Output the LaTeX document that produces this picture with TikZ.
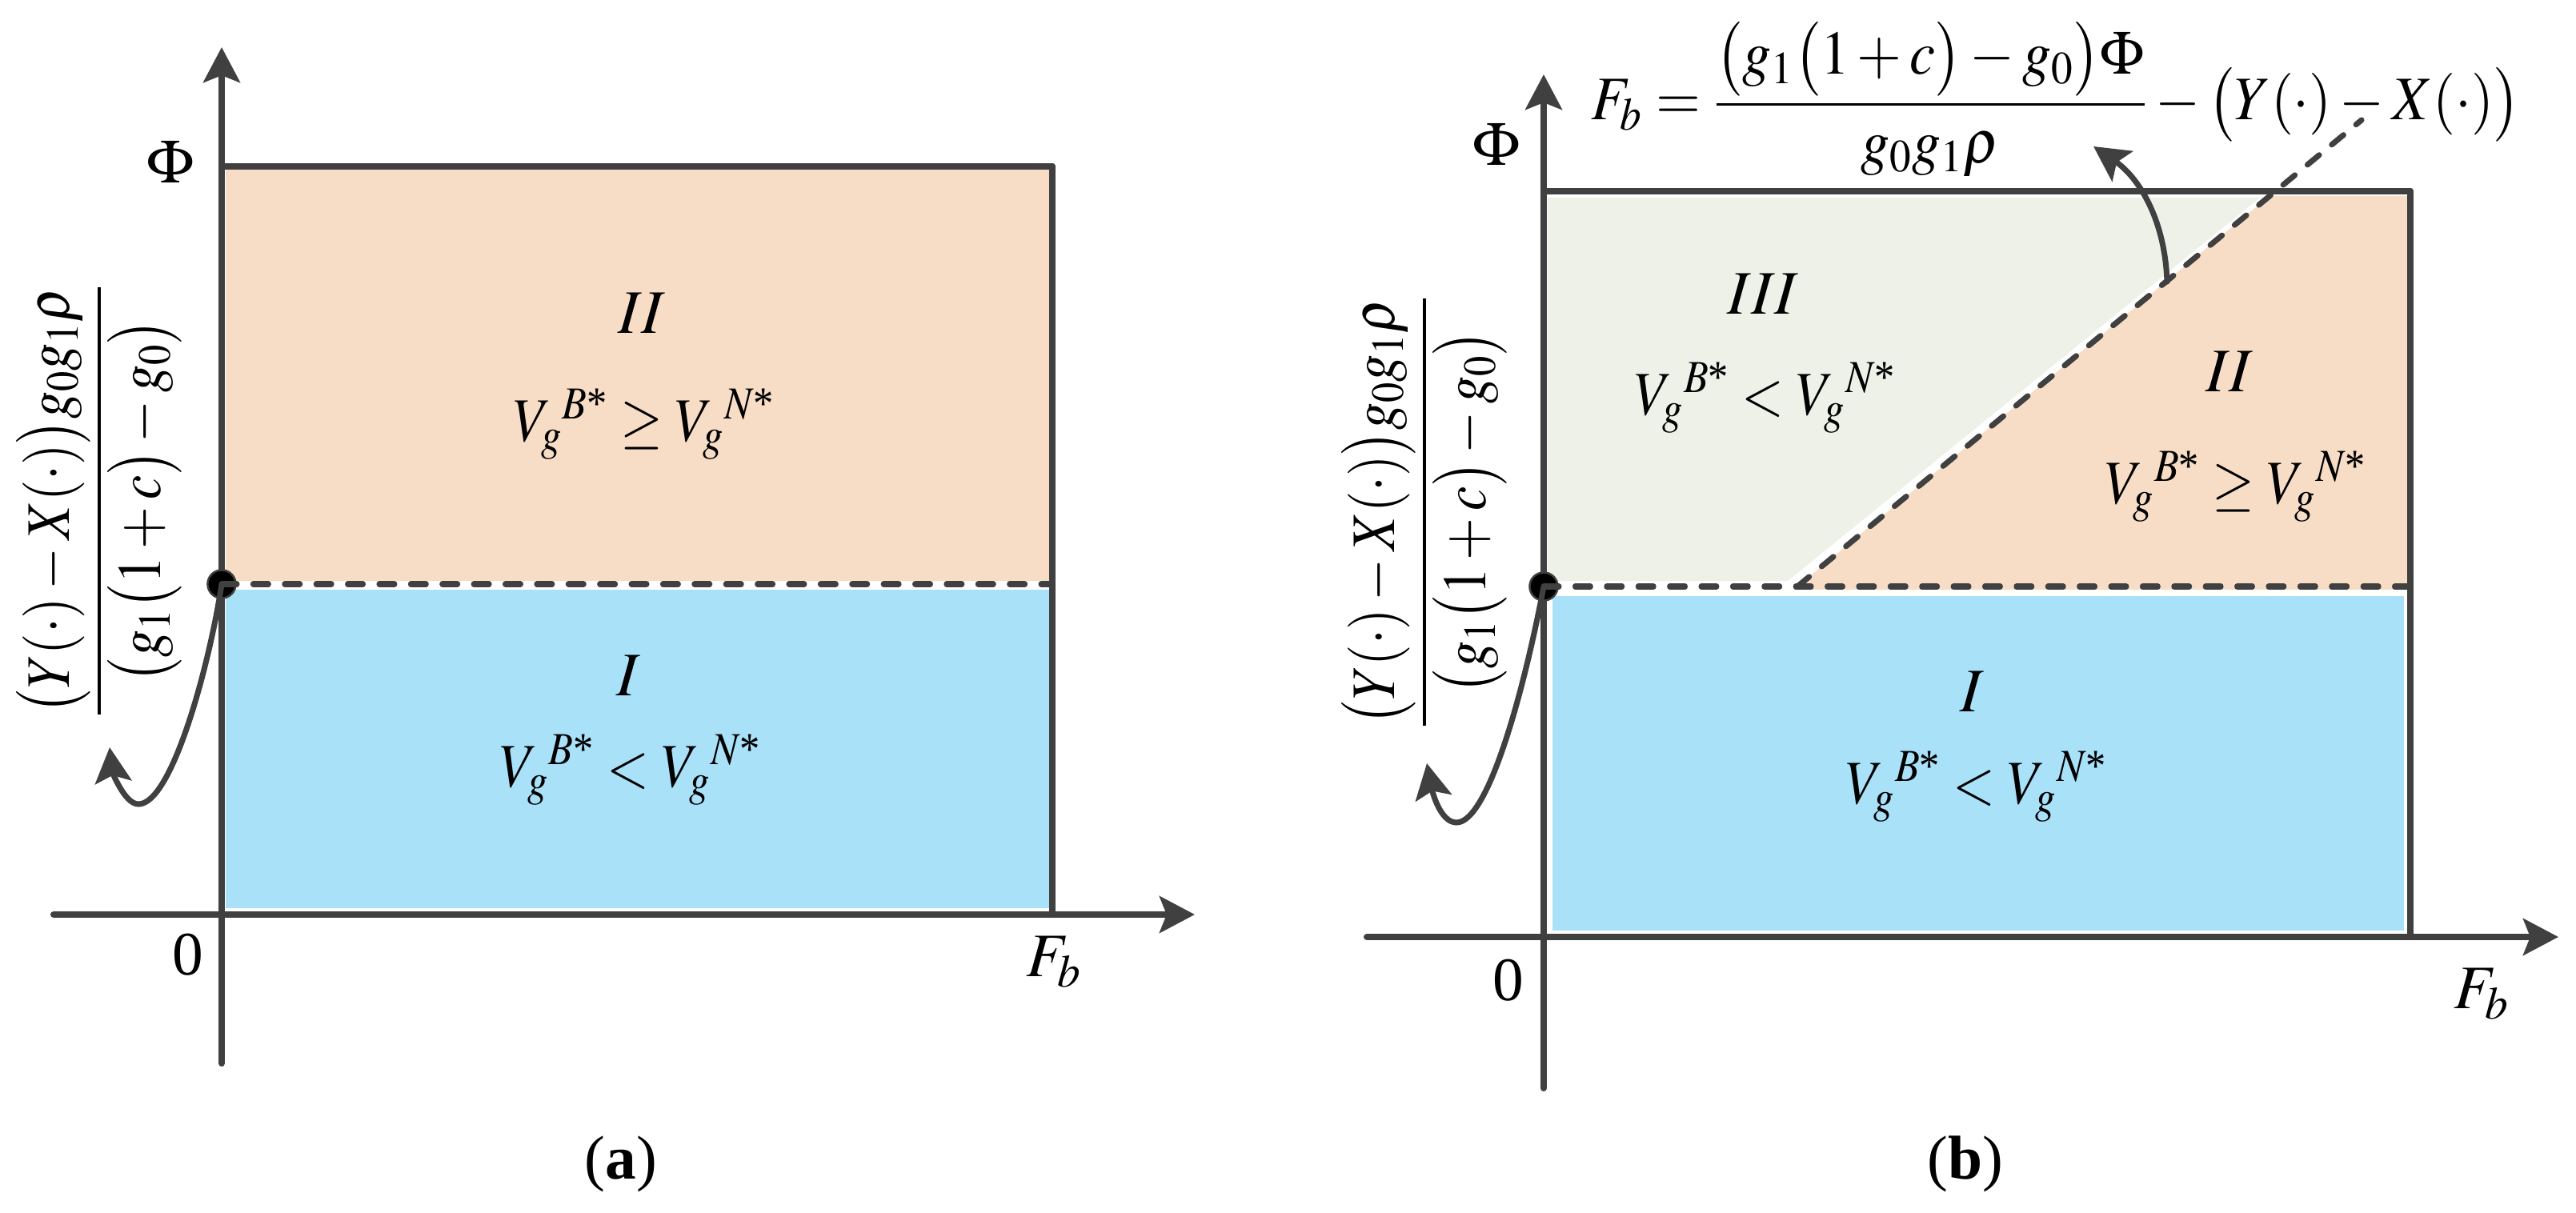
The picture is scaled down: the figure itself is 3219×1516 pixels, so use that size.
\documentclass[tikz,border=0pt]{standalone}
\usepackage{amsmath}
\usepackage{mathptmx}
\usepackage[no-math]{fontspec}
\setmainfont{Liberation Serif}
\usetikzlibrary{arrows.meta}
\definecolor{ln}{HTML}{404040}
\definecolor{orng}{HTML}{F7DDC6}
\definecolor{blu}{HTML}{A9E1F9}
\definecolor{grn}{HTML}{EEF1E8}
\tikzset{
 axisln/.style={draw=ln, line width=2.3pt, line cap=round},
 axarr/.style={axisln, -{Stealth[length=12.5pt,width=13pt,inset=2.5pt]}},
 curvearr/.style={draw=ln, line width=2pt, line cap=round, -{Stealth[length=12.5pt,width=13pt,inset=2.5pt]}},
 dashln/.style={draw=ln, line width=2pt, line cap=round, dash pattern=on 5.4pt off 5.8pt},
 lbl/.style={font=\fontsize{22pt}{26pt}\selectfont, inner sep=0pt, outer sep=0pt},
 dotnode/.style={circle, fill=black, draw=ln, line width=0.7pt, inner sep=0pt, minimum size=10pt},
}
\begin{document}
\begin{tikzpicture}[x=0.01cm,y=-0.01cm]
\useasboundingbox (0,0) rectangle (3219,1516);

% ===================== panel (a) =====================
\fill[orng] (282,212) rectangle (1311,726);
\fill[blu] (282,737) rectangle (1311,1135);
\coordinate (aYbot) at (277,1329);
\coordinate (aYtop) at (277,59);
\coordinate (aXl) at (67,1143);
\coordinate (aXr) at (1493,1143);
\coordinate (aTL) at (277,208);
\coordinate (aTR) at (1315,208);
\coordinate (aBR) at (1315,1143);
\coordinate (aDR) at (1315,730);
\draw[axarr] (aYbot) -- (aYtop);
\draw[axarr] (aXl) -- (aXr);
\draw[axisln] (aTL) -- (aTR);
\draw[axisln] (aTR) -- (aBR);
\node[dotnode] (aDot) at (277,730) {};
\draw[dashln] (aDot.center) -- (aDR);
\coordinate (aTip) at (137,934);
\draw[curvearr] (aDot.center) .. controls (262,830) and (215,1005) .. (173,1005) .. controls (155,1005) and (140,962) .. (aTip);

\node[lbl] (aPhi) at (213,203) {$\Phi$};
\node[lbl] (aZero) at (235,1193) {0};
\node[lbl] (aFb) at (1317,1202) {$F_b$};
\node[lbl] (aII) at (802,391) {$II$};
\node[lbl] (aIIv) at (805,530) {\scalebox{0.88}[1]{${V_g}^{B\text{*}}\geq {V_g}^{N\text{*}}$}};
\node[lbl] (aI) at (785,844) {$I$};
\node[lbl] (aIv) at (788,962) {\scalebox{0.88}[1]{${V_g}^{B\text{*}}< {V_g}^{N\text{*}}$}};
\node[lbl, rotate=90] (aFrac) at (124,626) {\scalebox{0.88}[1]{$\displaystyle\frac{\bigl(Y(\cdot)-X(\cdot)\bigr)g_0g_1\rho}{\bigl(g_1\bigl(1+c\bigr)-g_0\bigr)}$}};
\node[lbl] (aCap) at (776,1455) {(\textbf{a})};

% ===================== panel (b) =====================
\fill[grn] (1934,247) -- (2824,247) -- (2234,726) -- (1934,726) -- cycle;
\fill[orng] (2241,737) -- (2836,245) -- (3008,245) -- (3008,737) -- cycle;
\fill[blu] (1940,745) rectangle (3004,1163);
\coordinate (bYbot) at (1929,1360);
\coordinate (bYtop) at (1929,93);
\coordinate (bXl) at (1708,1171);
\coordinate (bXr) at (3197,1171);
\coordinate (bTL) at (1929,239);
\coordinate (bTR) at (3012,239);
\coordinate (bBR) at (3012,1171);
\coordinate (bDR) at (3012,733);
\coordinate (bDiagS) at (2246,733);
\coordinate (bDiagE) at (2951,150);
\draw[axarr] (bYbot) -- (bYtop);
\draw[axarr] (bXl) -- (bXr);
\draw[axisln] (bTL) -- (bTR);
\draw[axisln] (bTR) -- (bBR);
\node[dotnode] (bDot) at (1929,733) {};
\draw[dashln] (bDot.center) -- (bDR);
\draw[dashln] (bDiagS) -- (bDiagE);
\coordinate (bTip) at (1783,954);
\draw[curvearr] (bDot.center) .. controls (1905,860) and (1860,1028) .. (1820,1028) .. controls (1800,1028) and (1790,990) .. (bTip);
\coordinate (bDiagP) at (2708,352);
\coordinate (bTip2) at (2616,183);
\draw[curvearr] (bDiagP) .. controls (2705,270) and (2670,220) .. (bTip2);

\node[lbl] (bPhi) at (1870,181) {$\Phi$};
\node[lbl] (bZero) at (1885,1225) {0};
\node[lbl] (bFb) at (3101,1242) {$F_b$};
\node[lbl] (bIII) at (2203,367) {$III$};
\node[lbl] (bIIIv) at (2206,497) {\scalebox{0.88}[1]{${V_g}^{B\text{*}}< {V_g}^{N\text{*}}$}};
\node[lbl] (bII) at (2786,464) {$II$};
\node[lbl] (bIIv) at (2794,608) {\scalebox{0.88}[1]{${V_g}^{B\text{*}}\geq {V_g}^{N\text{*}}$}};
\node[lbl] (bI) at (2464,864) {$I$};
\node[lbl] (bIv) at (2470,983) {\scalebox{0.88}[1]{${V_g}^{B\text{*}}< {V_g}^{N\text{*}}$}};
\node[lbl, rotate=90] (bFrac) at (1780,640) {\scalebox{0.88}[1]{$\displaystyle\frac{\bigl(Y(\cdot)-X(\cdot)\bigr)g_0g_1\rho}{\bigl(g_1\bigl(1+c\bigr)-g_0\bigr)}$}};
\node[lbl, anchor=base west] (bFormula) at (1988,150) {\scalebox{0.93}[1]{$F_b=\dfrac{\bigl(g_1\bigl(1+c\bigr)-g_0\bigr)\Phi}{g_0g_1\rho}-\bigl(Y(\cdot)-X(\cdot)\bigr)$}};
\node[lbl] (bCap) at (2456,1455) {(\textbf{b})};
\end{tikzpicture}
\end{document}
